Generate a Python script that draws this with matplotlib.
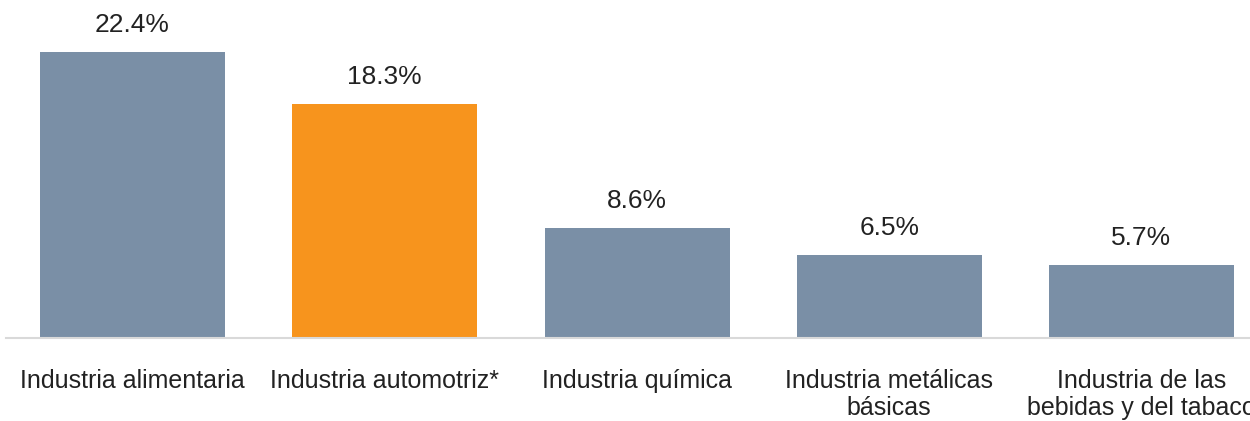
import matplotlib
matplotlib.use("Agg")
import matplotlib.pyplot as plt

categories = ["Industria alimentaria", "Industria automotriz*", "Industria química",
              "Industria metálicas\nbásicas", "Industria de las\nbebidas y del tabaco"]
values = [22.4, 18.3, 8.6, 6.5, 5.7]
value_labels = ["22.4%", "18.3%", "8.6%", "6.5%", "5.7%"]
colors = ["#7A8FA6", "#F7941D", "#7A8FA6", "#7A8FA6", "#7A8FA6"]

plt.rcParams['font.family'] = ['Liberation Sans', 'DejaVu Sans']

fig = plt.figure(figsize=(12.5, 4.21), dpi=100)
step = 252.25
left = 132.5 - step / 2
ax = fig.add_axes([left / 1250, 83 / 421, 5 * step / 1250, 306.5 / 421])
x = list(range(len(values)))
bars = ax.bar(x, values, width=185 / step, color=colors)
ax.set_xlim(-0.5, 4.5)
ax.set_ylim(0, 24)
for xi, v, lab in zip(x, values, value_labels):
    ax.annotate(lab, (xi, v), xytext=(0, 11), textcoords="offset points",
                ha="center", va="bottom", fontsize=19, color="#222222",
                annotation_clip=False)
ax.set_xticks(x)
ax.set_xticklabels(categories, fontsize=18, color="#222222", linespacing=1.2)
ax.tick_params(axis="x", length=0, pad=22)
ax.set_yticks([])
for s in ["top", "right", "left"]:
    ax.spines[s].set_visible(False)
ax.spines["bottom"].set_color("#D9D9D9")
ax.spines["bottom"].set_linewidth(1.5)
fig.savefig("out.png", dpi=100)
